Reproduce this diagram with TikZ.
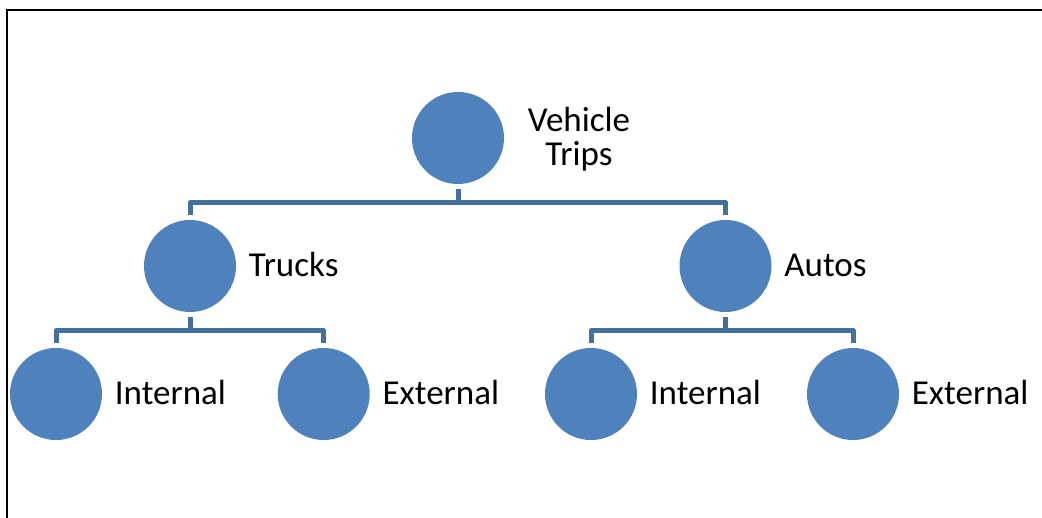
\documentclass[tikz,border=0pt]{standalone}
\usepackage{fontspec}
\setmainfont{Carlito}
\definecolor{circblue}{HTML}{4F81BD}
\definecolor{lineblue}{HTML}{43709F}
\begin{document}
\begin{tikzpicture}[x=1pt,y=-1pt,
  ball/.style={circle,fill=circblue,draw=none,minimum size=92pt,inner sep=0pt},
  lbl/.style={anchor=base west,inner sep=0pt,font=\fontsize{35}{34}\selectfont},
  conn/.style={draw=lineblue,line width=5pt,line join=round}]
\useasboundingbox (0,0) rectangle (1042,518);
\fill[white] (0,0) rectangle (1042,518);
\draw[line width=1.7pt] (6.8,518) -- (6.8,9.7) -- (1042,9.7);
% circles
\node[ball] (v) at (458,138) {};
\node[ball] (t) at (190,266) {};
\node[ball] (a) at (725.5,266) {};
\node[ball] (ti) at (56,394) {};
\node[ball] (te) at (323.7,394) {};
\node[ball] (ai) at (591,394) {};
\node[ball] (ae) at (853,394) {};
% labels
\node[anchor=center,inner sep=0pt,align=center,font=\fontsize{35}{34}\selectfont] (vl) at (579,139) {Vehicle\\Trips};
\node[lbl] (tl) at ([xshift=12.5pt,yshift=-10.5pt]t.east) {Trucks};
\node[lbl] (al) at ([xshift=12.5pt,yshift=-10.5pt]a.east) {Autos};
\node[lbl] (til) at ([xshift=12.5pt,yshift=-10.5pt]ti.east) {Internal};
\node[lbl] (tel) at ([xshift=12.5pt,yshift=-10.5pt]te.east) {External};
\node[lbl] (ail) at ([xshift=12.5pt,yshift=-10.5pt]ai.east) {Internal};
\node[lbl] (ael) at ([xshift=12.5pt,yshift=-10.5pt]ae.east) {External};
% buses
\coordinate (b1) at (458,202.5);
\coordinate (b2) at (190,330.5);
\coordinate (b3) at (725.5,330.5);
\draw[conn] ([yshift=-5pt]v.south) -- (b1);
\draw[conn] ([yshift=5pt]t.north) |- (b1) -| ([yshift=5pt]a.north);
\draw[conn] ([yshift=-5pt]t.south) -- (b2);
\draw[conn] ([yshift=5pt]ti.north) |- (b2) -| ([yshift=5pt]te.north);
\draw[conn] ([yshift=-5pt]a.south) -- (b3);
\draw[conn] ([yshift=5pt]ai.north) |- (b3) -| ([yshift=5pt]ae.north);
\end{tikzpicture}
\end{document}
